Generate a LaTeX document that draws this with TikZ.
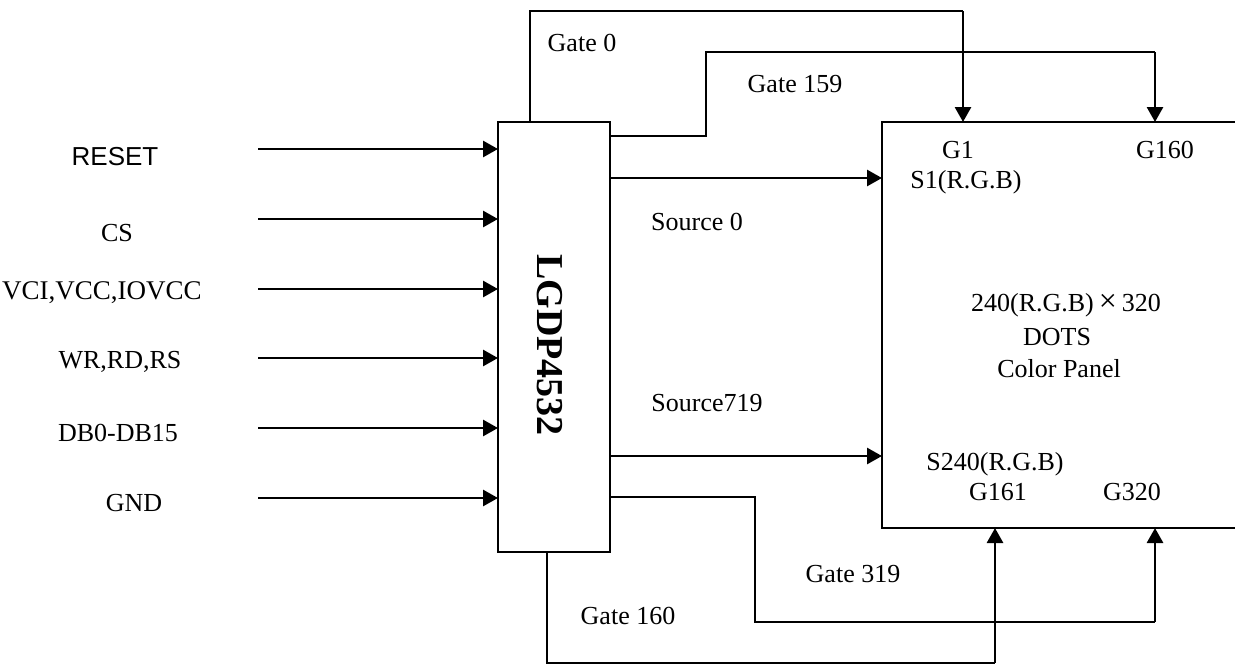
\documentclass[tikz,border=0pt]{standalone}
\usepackage{fontspec}
\setmainfont{Liberation Serif}
\newfontfamily\arialfont{Liberation Sans}
\usetikzlibrary{arrows.meta}
\begin{document}
\begin{tikzpicture}[x=0.5pt,y=-0.5pt,
  font=\fontsize{13}{15}\selectfont,
  wire/.style={line width=0.95pt},
  bus/.style={line width=1.4pt,-{Triangle[length=7.5pt,width=8pt]}},
  box/.style={draw,line width=0.95pt,inner sep=0pt,outer sep=0pt},
  lbl/.style={inner sep=0pt}]
\useasboundingbox (0,0) rectangle (1235,664);

% chip and panel
\node[box,minimum width=56pt,minimum height=215pt] (chip) at (554,337) {};
\node[lbl,rotate=-90,font=\fontsize{19}{21}\selectfont\bfseries] (chipname) at (550,345) {LGDP4532};
\begin{scope}
\clip (0,0) rectangle (1235,664);
\node[box,minimum width=182pt,minimum height=203pt,anchor=north west] (panel) at (882,122) {};
\end{scope}

% inputs
\node[lbl,font=\fontsize{13}{15}\selectfont\arialfont] (lreset) at (115,157) {RESET};
\node[lbl] (lcs) at (117,233) {CS};
\node[lbl,font=\fontsize{13.5}{15}\selectfont] (lvci) at (102,293) {VCI,VCC,IOVCC};
\node[lbl] (lwr) at (120,362) {WR,RD,RS};
\node[lbl] (ldb) at (118,433) {DB0-DB15};
\node[lbl] (lgnd) at (134,503) {GND};
\coordinate (i1) at (258,149);
\coordinate (i2) at (258,219);
\coordinate (i3) at (258,289);
\coordinate (i4) at (258,358);
\coordinate (i5) at (258,428);
\coordinate (i6) at (258,498);
\foreach \i in {1,...,6} \draw[bus] (i\i) -- (i\i -| chip.west);

% gate 0
\coordinate (g0a) at (530,122);
\coordinate (g0b) at (530,11);
\coordinate (g0c) at (963,11);
\draw[wire] (g0a) -- (g0b) -- (g0c);
\draw[bus] (g0c) -- (g0c |- panel.north);
\node[lbl] (tg0) at (582,43) {Gate 0};

% gate 159
\coordinate (g159a) at (706,136);
\coordinate (g159b) at (706,52);
\coordinate (g159c) at (1155,52);
\draw[wire] (chip.east |- g159a) -- (g159a) -- (g159b) -- (g159c);
\draw[bus] (g159c) -- (g159c |- panel.north);
\node[lbl] (tg159) at (795,84) {Gate 159};

% sources
\coordinate (s0) at (700,178);
\coordinate (s719) at (700,456);
\draw[bus] (chip.east |- s0) -- (panel.west |- s0);
\draw[bus] (chip.east |- s719) -- (panel.west |- s719);
\node[lbl] (ts0) at (697,222) {Source 0};
\node[lbl] (ts719) at (707,403) {Source719};

% gate 319
\coordinate (g319a) at (755,497);
\coordinate (g319b) at (755,622);
\coordinate (g319c) at (1155,622);
\draw[wire] (chip.east |- g319a) -- (g319a) -- (g319b) -- (g319c);
\draw[bus] (g319c) -- (g319c |- panel.south);
\node[lbl] (tg319) at (853,574) {Gate 319};

% gate 160
\coordinate (g160a) at (547,663);
\coordinate (g160b) at (995,663);
\draw[wire] (chip.south -| g160a) -- (g160a) -- (g160b);
\draw[bus] (g160b) -- (g160b |- panel.south);
\node[lbl] (tg160) at (628,616) {Gate 160};

% panel texts
\node[lbl] (pg1) at (958,150) {G1};
\node[lbl] (ps1) at (966,182) {S1(R.G.B)};
\node[lbl] (pg160) at (1165,150) {G160};
\node[lbl] (pdim) at (1066,305) {240(R.G.B)\kern2.5pt{\fontsize{16}{15}\selectfont×}\kern2.5pt320};
\node[lbl] (pdots) at (1057,337) {DOTS};
\node[lbl] (pcol) at (1059,369) {Color Panel};
\node[lbl] (ps240) at (995,464) {S240(R.G.B)};
\node[lbl] (pg161) at (998,492) {G161};
\node[lbl] (pg320) at (1132,492) {G320};
\end{tikzpicture}
\end{document}
